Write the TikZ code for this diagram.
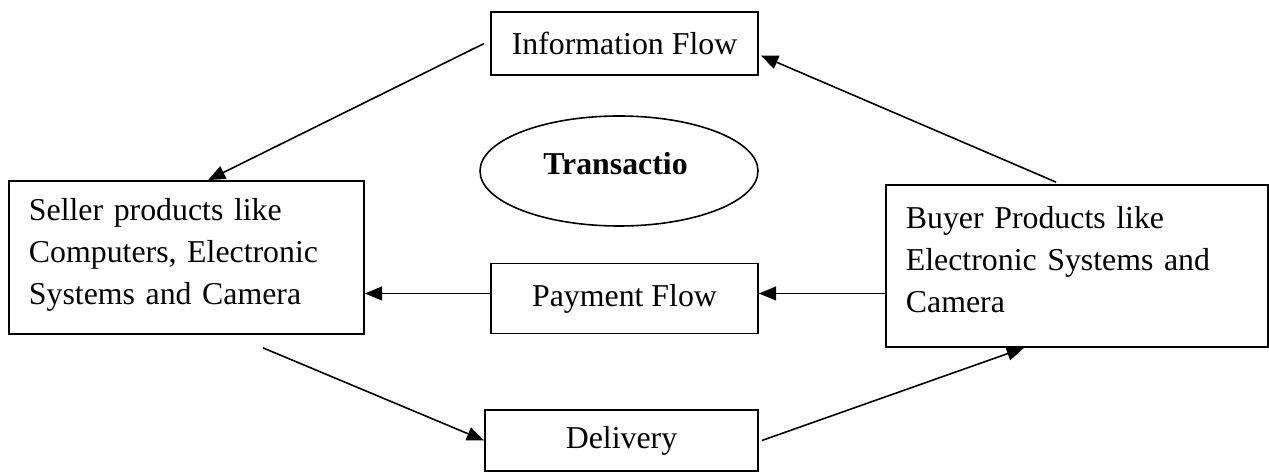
\documentclass[tikz,border=0pt]{standalone}
\usepackage{fontspec}
\setmainfont{Liberation Serif}
\usetikzlibrary{arrows.meta,shapes.geometric}
\def\pxu{0.377pt}
\tikzset{
  box/.style={draw, line width=0.65pt, inner sep=0pt},
  textbox/.style={box, align=left, inner xsep=7.5pt},
  flow/.style={line width=0.6pt, -{Triangle[length=6.5pt,width=5.2pt]}},
}
\begin{document}
\begin{tikzpicture}[x=0.377pt, y=-0.377pt, font=\fontsize{12}{15.85}\selectfont]
\useasboundingbox (0,0) rectangle (1269,473);
  \node[box, minimum width=267*\pxu, minimum height=63*\pxu] (info) at (624.5,43.5) {Information Flow};
  \node[textbox, text width=118.8pt, minimum height=153*\pxu] (seller) at (186.5,257.5)
    {Seller products like\\ Computers, Electronic\\ Systems and Camera\strut};
  \node[ellipse, draw, line width=0.6pt, inner sep=0pt, minimum width=278*\pxu, minimum height=110*\pxu] (trans) at (619,171) {};
  \node[anchor=base, font=\fontsize{12}{15.85}\selectfont\bfseries] (transtext) at (615.5,175) {Transactio};
  \node[box, minimum width=267*\pxu, minimum height=70*\pxu] (payment) at (624.5,298.5) {Payment Flow};
  \node[textbox, text width=129pt, minimum height=162*\pxu] (buyer) at (1077,266)
    {Buyer Products like\\ Electronic Systems and\\ Camera\strut};
  \node[box, minimum width=273*\pxu, minimum height=61*\pxu] (delivery) at (621.5,440.5) {Delivery};
  \coordinate (payline) at ([shift={(0,-5)}]payment.west);
  \draw[flow] ([shift={(-6,0)}]info.west) -- ([shift={(21.5,0)}]seller.north);
  \draw[flow] ([shift={(-21,-2)}]buyer.north) -- ([shift={(2,12)}]info.east);
  \draw[flow] (payline) -- (payline -| seller.east);
  \draw[flow] (buyer.west |- payline) -- (payline -| payment.east);
  \draw[flow] ([shift={(76.5,13)}]seller.south) -- (delivery.west);
  \draw[flow] ([shift={(3,0)}]delivery.east) -- ([shift={(-53,0)}]buyer.south);
\end{tikzpicture}
\end{document}
